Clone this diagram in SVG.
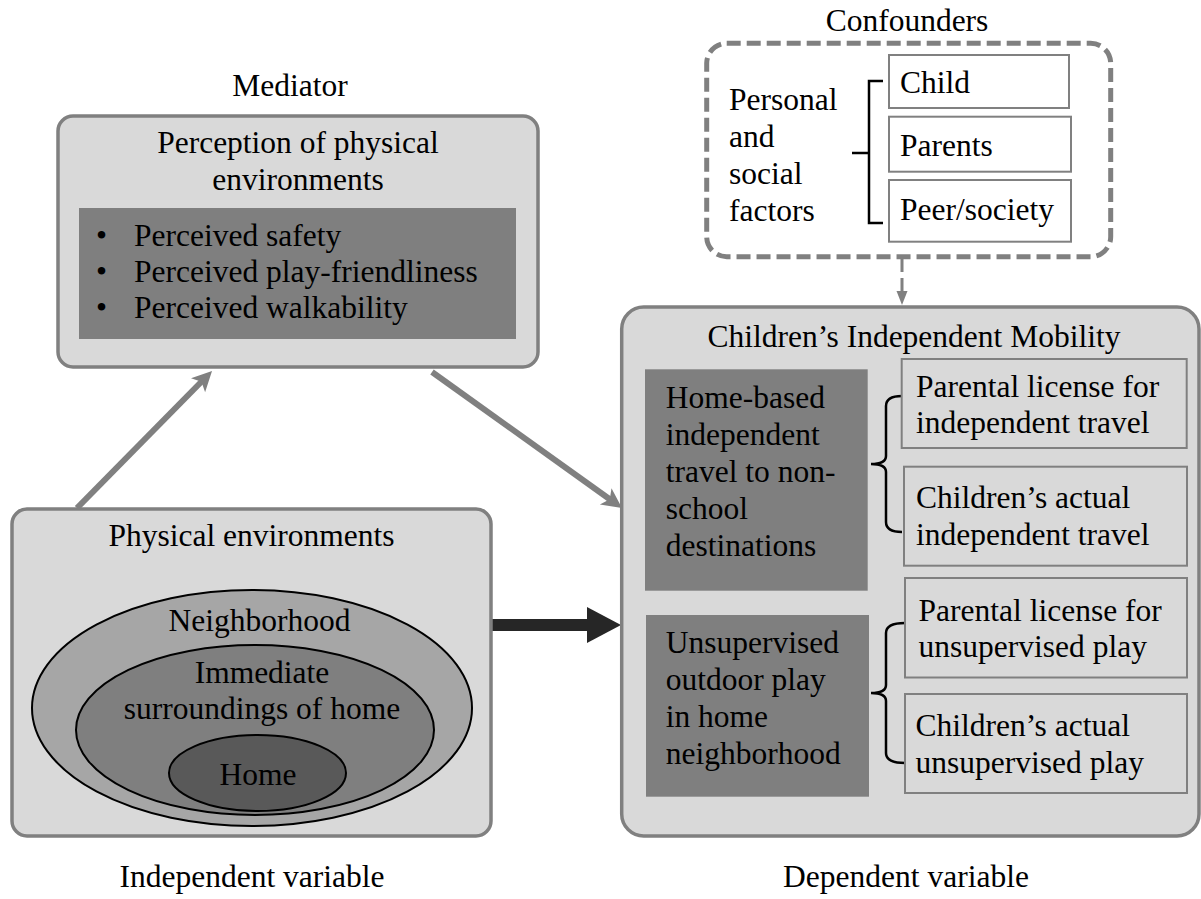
<svg xmlns="http://www.w3.org/2000/svg" width="1201" height="899" viewBox="0 0 1201 899">
<defs>
<style>
text{font-family:"Liberation Serif","Times New Roman",serif;font-size:31.5px;fill:#000}
.mid{text-anchor:middle}
.panel{fill:#d9d9d9;stroke:#808080;stroke-width:3.5}
.dark{fill:#7f7f7f}
.sub{fill:#d9d9d9;stroke:#808080;stroke-width:2}
.wbox{fill:#fff;stroke:#808080;stroke-width:2}
.br{fill:none;stroke:#000;stroke-width:2.5}
.ell{stroke:#000;stroke-width:2}
.garrow{stroke:#808080;stroke-width:6;fill:none}
</style>
<marker id="gh" markerUnits="userSpaceOnUse" markerWidth="22" markerHeight="22" refX="8" refY="10" orient="auto">
<path d="M0,0 L20,10 L0,20 L5,10 z" fill="#808080"/>
</marker>
<marker id="sh" markerUnits="userSpaceOnUse" markerWidth="16" markerHeight="12" refX="4" refY="5.5" orient="auto">
<path d="M0,0 L14,5.5 L0,11 z" fill="#808080"/>
</marker>
</defs>
<rect width="1201" height="899" fill="#fff"/>

<g id="labels">
<text class="mid" x="290" y="96">Mediator</text>
<text class="mid" x="907" y="31">Confounders</text>
<text class="mid" x="252" y="887">Independent variable</text>
<text class="mid" x="906" y="887">Dependent variable</text>
</g>

<g id="connectors">
<line class="garrow" x1="77" y1="508" x2="203.6" y2="379.5" marker-end="url(#gh)"/>
<line class="garrow" x1="432" y1="372" x2="612.2" y2="501" marker-end="url(#gh)"/>
<rect x="491" y="619" width="97" height="12" fill="#262626"/>
<polygon points="587,607 621,625 587,643" fill="#262626"/>
<line x1="902" y1="259" x2="902" y2="295" stroke="#808080" stroke-width="3" stroke-dasharray="13 6" marker-end="url(#sh)"/>
</g>

<g id="mediator">
<rect class="panel" x="58" y="116" width="480" height="251" rx="15"/>
<text class="mid" x="298" y="153">Perception of physical</text>
<text class="mid" x="298" y="190">environments</text>
<rect class="dark" x="79" y="208" width="437" height="131"/>
<text x="96" y="246">•</text>
<text x="134" y="246">Perceived safety</text>
<text x="96" y="282">•</text>
<text x="134" y="282">Perceived play-friendliness</text>
<text x="96" y="318">•</text>
<text x="134" y="318">Perceived walkability</text>
</g>

<g id="physical">
<rect class="panel" x="12" y="509" width="479" height="327" rx="15"/>
<text class="mid" x="251.5" y="546">Physical environments</text>
<ellipse class="ell" cx="252" cy="708" rx="220" ry="118" fill="#a6a6a6"/>
<ellipse class="ell" cx="255" cy="730" rx="179" ry="85" fill="#7f7f7f"/>
<ellipse class="ell" cx="257.5" cy="773" rx="88.5" ry="38" fill="#595959"/>
<text class="mid" x="259.5" y="631">Neighborhood</text>
<text class="mid" x="262" y="683">Immediate</text>
<text class="mid" x="262" y="719">surroundings of home</text>
<text class="mid" x="258" y="785">Home</text>
</g>

<g id="confounders">
<rect x="706.7" y="43.3" width="404" height="213.4" rx="20" fill="none" stroke="#808080" stroke-width="5" stroke-dasharray="14 6"/>
<text x="729" y="110">Personal</text>
<text x="729" y="147">and</text>
<text x="729" y="184">social</text>
<text x="729" y="221">factors</text>
<path class="br" d="M883,81 H869 V223 H883 M852,153 H869"/>
<rect class="wbox" x="889" y="55" width="180" height="53"/>
<text x="900" y="93">Child</text>
<rect class="wbox" x="889" y="116.7" width="182" height="55"/>
<text x="900" y="156">Parents</text>
<rect class="wbox" x="889" y="180" width="182" height="61.7"/>
<text x="900" y="220">Peer/society</text>
</g>

<g id="cim">
<rect class="panel" x="621.7" y="307" width="577.3" height="529" rx="22"/>
<text class="mid" x="914" y="347">Children’s Independent Mobility</text>
<rect class="dark" x="645" y="369.3" width="222.7" height="221.4"/>
<text x="665.7" y="408">Home-based</text>
<text x="665.7" y="445">independent</text>
<text x="665.7" y="482">travel to non-</text>
<text x="665.7" y="519">school</text>
<text x="665.7" y="556">destinations</text>
<rect class="dark" x="646" y="615" width="223" height="181.7"/>
<text x="665.7" y="653">Unsupervised</text>
<text x="665.7" y="690">outdoor play</text>
<text x="665.7" y="727">in home</text>
<text x="665.7" y="764">neighborhood</text>
<path class="br" d="M902,396 Q886,396 886,406 L886,456 Q886,464 871,464 Q886,464 886,472 L886,522 Q886,532 902,532"/>
<path class="br" d="M905,623 Q886,623 886,633 L886,685 Q886,693 871,693 Q886,693 886,701 L886,753 Q886,763 905,763"/>
<rect class="sub" x="901.7" y="359" width="285" height="89"/>
<text x="916" y="397">Parental license for</text>
<text x="916" y="433">independent travel</text>
<rect class="sub" x="904" y="466.7" width="283" height="99"/>
<text x="916" y="508">Children’s actual</text>
<text x="916" y="545">independent travel</text>
<rect class="sub" x="905" y="578" width="282" height="99.5"/>
<text x="918.6" y="621">Parental license for</text>
<text x="918.6" y="657">unsupervised play</text>
<rect class="sub" x="905" y="694" width="282" height="99"/>
<text x="915.6" y="736">Children’s actual</text>
<text x="915.6" y="773">unsupervised play</text>
</g>
</svg>
